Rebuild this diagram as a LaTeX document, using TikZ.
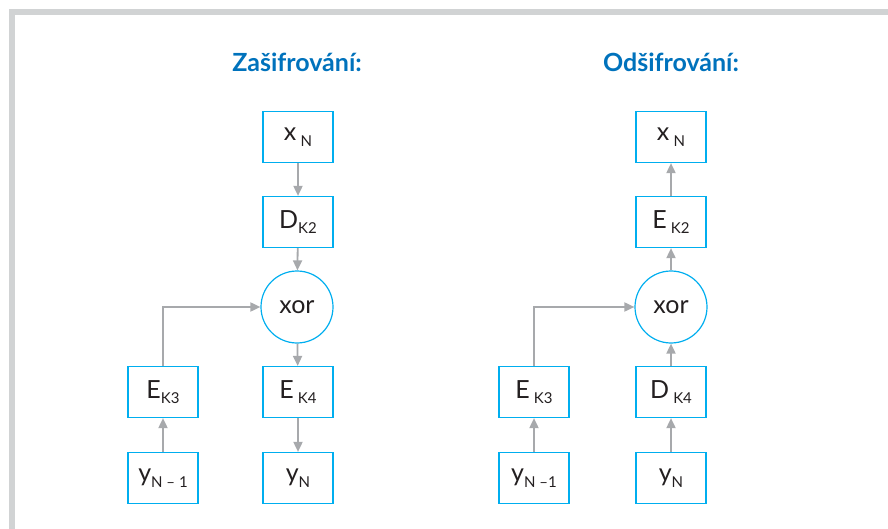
\documentclass[tikz,border=0pt]{standalone}
\usepackage{fontspec}
\setmainfont{Lato}
\usetikzlibrary{arrows.meta}
\definecolor{boxcyan}{RGB}{0,174,239}
\definecolor{linegray}{RGB}{167,169,172}
\definecolor{framegray}{RGB}{209,211,212}
\definecolor{titleblue}{RGB}{0,114,188}
\definecolor{textdark}{RGB}{35,31,32}
\newcommand{\ix}[1]{\raisebox{-0.45ex}{\fontsize{15}{15}\selectfont #1}}
\begin{document}
\begin{tikzpicture}[x=1pt, y=-1pt,
    box/.style={draw=boxcyan, line width=1.2pt, minimum width=70pt, minimum height=51pt,
      inner sep=0pt, text=textdark, font=\fontsize{25}{25}\selectfont},
    xorc/.style={draw=boxcyan, line width=1.2pt, circle, minimum size=72pt,
      inner sep=0pt, text=textdark, font=\fontsize{25}{25}\selectfont},
    title/.style={text=titleblue, font=\fontsize{25}{25}\selectfont\bfseries},
    flow/.style={draw=linegray, line width=1.8pt, -{Triangle[length=10pt, width=9pt]}}]
        % Canvas and frame
        \useasboundingbox (0,0) rectangle (888,529);
        \fill[framegray] (9,9) rectangle (888,15);
        \fill[framegray] (9,9) rectangle (15,529);

        % Encryption
        \node[title] (encTitle) at (297,62) {Zašifrování:};
        \node[box] (xL) at (298,137) {x\,\ix{N}};
        \node[box] (dL) at (298,222) {D\ix{K2}};
        \node[xorc] (xorL) at (297,307) {xor};
        \node[box] (e3L) at (163,392) {E\ix{K3}};
        \node[box] (e4L) at (298,392) {E\,\ix{K4}};
        \node[box] (ypL) at (163,478) {y\ix{N – 1}};
        \node[box] (ynL) at (298,478) {y\ix{N}};

        \draw[flow] (xL) -- (dL);
        \draw[flow] (dL) -- (xorL);
        \draw[flow] (xorL) -- (e4L);
        \draw[flow] (e4L) -- (ynL);
        \draw[flow] (ypL) -- (e3L);
        \draw[flow] (e3L.north) |- (xorL.west);

        % Decryption
        \node[title] (decTitle) at (671,62) {Odšifrování:};
        \node[box] (xR) at (671,137) {x\,\ix{N}};
        \node[box] (eR) at (671,222) {E\,\ix{K2}};
        \node[xorc] (xorR) at (671,307) {xor};
        \node[box] (e3R) at (534,392) {E\,\ix{K3}};
        \node[box] (d4R) at (671,392) {D\,\ix{K4}};
        \node[box] (ypR) at (534,478) {y\ix{N –1}};
        \node[box] (ynR) at (671,478) {y\ix{N}};

        \draw[flow] (eR) -- (xR);
        \draw[flow] (xorR) -- (eR);
        \draw[flow] (d4R) -- (xorR);
        \draw[flow] (ynR) -- (d4R);
        \draw[flow] (ypR) -- (e3R);
        \draw[flow] (e3R.north) |- (xorR.west);
\end{tikzpicture}
\end{document}
